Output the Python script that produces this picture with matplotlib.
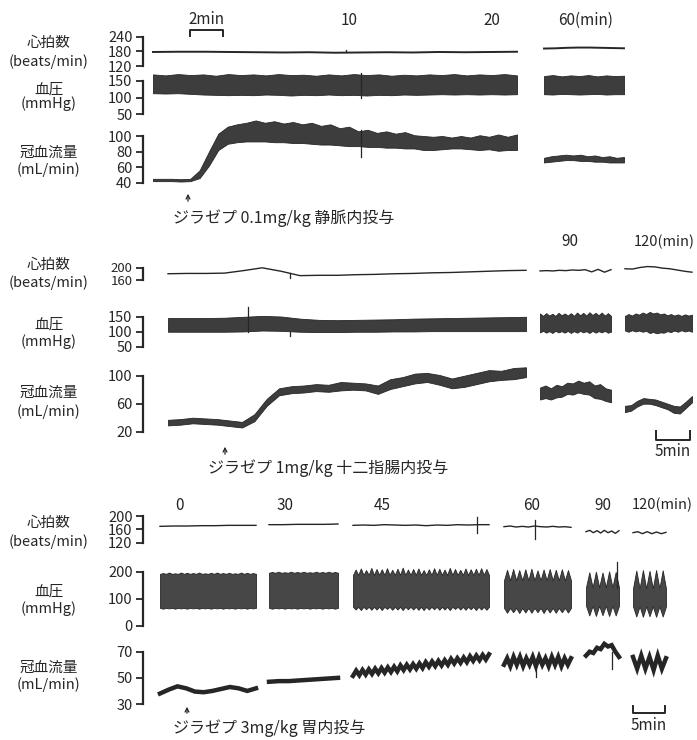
import matplotlib

matplotlib.use("Agg")

import matplotlib.pyplot as plt
import numpy as np

plt.rcParams["font.family"] = ["Noto Sans CJK JP", "DejaVu Sans"]

W, H = 697, 740
INK = "#262626"
BAND = "#3d3d3d"

# ---------------- data ----------------
# panel 1: 0.1 mg/kg i.v. (0-22 min, 60 min)
p1_hr = [
    [177, 178, 178, 177, 176, 175, 176, 174, 175, 176, 175, 177, 176, 177, 178],
    [191, 192, 194, 195, 195, 194, 193, 192],
]
p1_bp_hi = [
    [170, 167, 171, 168, 170, 166, 171, 168, 170, 167, 171, 168, 169, 166, 170,
     167, 171, 168, 170, 166, 169, 167, 170, 168, 171, 167, 170, 168, 171, 167],
    [165, 168, 164, 167, 165, 168, 164, 167, 165, 166],
]
p1_bp_lo = [
    [113, 112, 113, 111, 109, 108, 107, 108, 107, 109, 108, 106, 108, 107, 109,
     107, 108, 106, 108, 107, 109, 108, 109, 110, 109, 110, 109, 110, 109, 110],
    [110, 109, 111, 110, 109, 110, 111, 109, 110, 110],
]
p1_cbf_hi = [
    [45, 45, 45, 44.5, 45, 56, 80, 103, 112, 115, 117, 120, 117, 119, 116, 118, 115, 117, 113, 115,
     110, 112, 106, 108, 104, 106, 103, 105, 101, 100, 99, 100, 98, 100, 98, 101, 99, 102, 99, 102],
    [72, 74, 75, 76, 75, 76, 74, 75, 73, 74, 72, 73],
]
p1_cbf_lo = [
    [42, 42, 42, 41.5, 42, 46, 62, 82, 90, 92, 93, 93, 93, 92, 92, 91, 91, 90, 89, 89,
     88, 87, 87, 86, 86, 85, 85, 84, 84, 82, 82, 83, 84, 84, 83, 82, 83, 81, 82, 82],
    [66, 67, 68, 69, 69, 68, 68, 67, 67, 66, 66, 66],
]

# panel 2: 1 mg/kg intraduodenal (early record, 90 min, 120 min)
p2_hr = [
    [180, 181, 181, 182, 190, 199, 188, 174, 175, 175, 177, 178, 180, 181, 183, 184, 186, 188, 190, 191],
    [189, 190, 189, 191, 190, 192, 191, 193, 186, 194, 185, 193],
    [196, 195, 200, 203, 202, 198, 196, 192, 188, 185],
]
p2_bp_hi = [
    [145, 145, 145, 146, 149, 152, 150, 143, 139, 138, 139, 140, 141, 143, 144, 145, 146, 147, 148, 149],
    [160, 152, 161, 153, 159, 152, 162, 154, 160, 153, 161, 152, 163, 154, 162, 153, 164, 155, 162, 154, 163, 153, 161, 152],
    [152, 158, 153, 160, 156, 163, 158, 165, 160, 163, 157, 160, 154, 158, 153, 157, 152, 157, 153, 156],
]
p2_bp_lo = [
    [100, 100, 100, 100, 101, 104, 103, 100, 99, 99, 100, 100, 101, 101, 102, 102, 102, 102, 102, 102],
    [98, 103, 97, 102, 96, 103, 98, 102, 97, 103, 96, 102, 97, 103, 98, 102, 96, 103, 97, 102, 98, 103, 97, 100],
    [104, 100, 105, 101, 104, 100, 103, 96, 99, 95, 98, 97, 102, 99, 104, 100, 105, 101, 104, 100],
]
p2_cbf_hi = [
    [37, 38, 40, 39, 38, 36, 34, 45, 67, 82, 85, 86, 88, 87, 91, 90, 89, 86, 95, 98,
     103, 104, 101, 96, 100, 104, 108, 107, 111, 112],
    [83, 86, 82, 87, 85, 90, 89, 93, 90, 92, 86, 88, 82, 80],
    [57, 58, 64, 68, 67, 66, 63, 60, 57, 56, 63, 71],
]
p2_cbf_lo = [
    [29, 30, 32, 31, 30, 28, 26, 35, 57, 72, 75, 76, 78, 77, 79, 80, 79, 74, 81, 85,
     89, 91, 87, 82, 84, 88, 92, 94, 95, 98],
    [66, 68, 66, 69, 70, 74, 73, 76, 74, 73, 68, 67, 64, 62],
    [48, 50, 56, 60, 60, 58, 55, 52, 47, 46, 54, 62],
]

# panel 3: 3 mg/kg intragastric (0, 30, 45, 60, 90, 120 min)
p3_hr = [
    [169, 170, 170, 171, 171, 172, 172, 172],
    [174, 174, 175, 175, 175, 176],
    [172, 173, 172, 174, 173, 172, 173, 171, 173, 172, 174, 173, 174, 174],
    [168, 170, 167, 169, 167, 170, 168, 167, 169, 167, 168, 166],
    [153, 157, 150, 156, 149, 157, 150, 155, 148, 156],
    [150, 153, 147, 153, 147, 152, 147, 151],
]
p3_bp_top = [192, 196, 188, 168, 142, 138]
p3_bp_peaks = [
    [195, 197, 194, 197, 196, 195, 197, 194, 196, 197, 195, 196, 194, 197, 196, 195],
    [199, 200, 198, 200, 199, 200, 198, 200, 199, 200, 199],
    [208, 212, 206, 214, 210, 209, 213, 207, 211, 215, 208, 210, 212,
     206, 209, 213, 211, 208, 214, 210, 207, 212, 209, 211, 213, 210],
    [207, 210, 206, 209, 211, 205, 208, 210, 207, 209, 206],
    [198, 200, 197, 201, 199],
    [204, 206, 203, 206, 205],
]
p3_bp_floor = [66, 66, 70, 66, 74, 72]
p3_bp_dips = [
    [63, 64, 63, 64, 63, 64, 63, 64, 63, 64, 63, 64, 63, 64, 63, 64],
    [63, 64, 63, 64, 63, 64, 63, 64, 63, 64, 63],
    [60, 58, 61, 59, 60, 58, 62, 59, 60, 58, 61, 60, 59,
     58, 60, 61, 59, 60, 58, 62, 60, 59, 61, 58, 60, 59],
    [48, 50, 47, 49, 48, 50, 47, 49, 48, 50, 49],
    [38, 36, 39, 36, 38],
    [34, 33, 35, 33, 34],
]
p3_cbf = [
    [38, 41, 43.5, 42, 39.5, 39, 40, 41.5, 43, 42, 40, 42],
    [47, 47.5, 47.5, 48, 48.5, 49, 49.5, 50],
    [51.5, 55.5, 52, 56, 52.5, 56.5, 53, 57, 53.5, 57.5, 54, 58, 54.5, 58.5, 55, 59.5,
     56, 60, 56.5, 60.5, 57, 61, 57.5, 62, 58.5, 62.5, 59, 63, 59.5, 63.5, 60, 64.5,
     61, 65, 61.5, 65.5, 62, 66.5, 63, 67, 63.5, 67.5, 64, 68],
    [60, 65, 59, 66, 60, 66, 59, 65, 60, 66, 59, 66, 60, 65, 59, 66, 60, 66, 59, 65, 60, 65],
    [67, 70, 69, 73, 72, 76, 74, 75, 70, 66],
    [66, 57, 67, 57, 66, 56, 67, 57, 65],
]

# artefact strokes: (panel, row, value_low, value_high)
ARTEFACTS = [
    (0, 0, 176, 186), (0, 1, 98, 174), (0, 2, 73, 108),
    (1, 0, 165, 181), (1, 1, 100, 181), (1, 1, 86, 100),
    (2, 0, 149, 198), (2, 0, 131, 188), (2, 1, 140, 237), (2, 2, 51, 62), (2, 2, 57, 70),
]

# ---------------- layout (pixels) ----------------
SEGS = [
    [(153, 517), (544, 624)],
    [(168, 526), (540, 611), (625, 692)],
    [(160, 256), (269, 338), (353, 489), (504, 571), (586, 619), (633, 666)],
]
ART_X = [346, 361, 361, 290, 248, 290, 477, 535, 617, 536, 612]
SPINE_X = 143
# per row: tick values, pixel of first tick, pixel of last tick, label size
SCALES = [
    [([240, 180, 120], 36.5, 66, 10.5), ([150, 100, 50], 81, 114, 10.5),
     ([100, 80, 60, 40], 136, 182.7, 10.5)],
    [([200, 160], 267.5, 280, 9.5), ([150, 100, 50], 316.5, 347, 10.5),
     ([100, 60, 20], 375.7, 431.7, 10.5)],
    [([200, 160, 120], 516, 542.7, 10.5), ([200, 100, 0], 571.7, 625.7, 10.5),
     ([70, 50, 30], 651.7, 704, 10.5)],
]
ROW_LABELS = [("心拍数", "(beats/min)"), ("血圧", "(mmHg)"), ("冠血流量", "(mL/min)")]
ROW_LABEL_Y = [
    [(43, 62), (90, 103.5), (153, 170)],
    [(265, 283), (325, 342), (393, 412)],
    [(523, 542), (592, 609), (668, 685)],
]

fig = plt.figure(figsize=(W / 100, H / 100), dpi=100)


def row_axes(ticks, y_first, y_last, labelsize):
    ax = fig.add_axes([0, 1 - y_last / H, 1, (y_last - y_first) / H])
    ax.set_xlim(0, W)
    ax.set_ylim(ticks[-1], ticks[0])
    ax.patch.set_alpha(0)
    for side in ["top", "right", "bottom"]:
        ax.spines[side].set_visible(False)
    ax.spines["left"].set_position(("data", SPINE_X))
    ax.spines["left"].set_linewidth(1.6)
    ax.spines["left"].set_color(INK)
    ax.set_xticks([])
    ax.set_yticks(ticks)
    ax.set_yticklabels([str(t) for t in ticks])
    ax.tick_params(axis="y", direction="out", length=5, width=1.3, labelsize=labelsize,
                   pad=2.5, colors=INK)
    return ax


def zigzag(base, tips):
    out = [base]
    for t in tips:
        out += [t, base]
    return out


axes = [[row_axes(*s) for s in panel] for panel in SCALES]

panel_data = [
    (p1_hr, p1_bp_hi, p1_bp_lo, p1_cbf_hi, p1_cbf_lo),
    (p2_hr, p2_bp_hi, p2_bp_lo, p2_cbf_hi, p2_cbf_lo),
]
hr_lw = [1.4, 1.0]
for p, (hr, bph, bpl, cbh, cbl) in enumerate(panel_data):
    ax_hr, ax_bp, ax_cbf = axes[p]
    for k, (x0, x1) in enumerate(SEGS[p]):
        x = np.linspace(x0, x1, len(hr[k]))
        ax_hr.plot(x, hr[k], color=INK, lw=hr_lw[p], clip_on=False)
        x = np.linspace(x0, x1, len(bph[k]))
        ax_bp.fill_between(x, bpl[k], bph[k], color=BAND, lw=0.6, edgecolor=INK, clip_on=False)
        x = np.linspace(x0, x1, len(cbh[k]))
        ax_cbf.fill_between(x, cbl[k], cbh[k], color=BAND, lw=0.6, edgecolor=INK, clip_on=False)

ax_hr, ax_bp, ax_cbf = axes[2]
for k, (x0, x1) in enumerate(SEGS[2]):
    x = np.linspace(x0, x1, len(p3_hr[k]))
    ax_hr.plot(x, p3_hr[k], color=INK, lw=1.0, clip_on=False)
    hi = zigzag(p3_bp_top[k], p3_bp_peaks[k])
    lo = zigzag(p3_bp_floor[k], p3_bp_dips[k])
    x = np.linspace(x0, x1, len(hi))
    ax_bp.fill_between(x, lo, hi, color="#474747", lw=0.6, edgecolor=INK, clip_on=False)
    x = np.linspace(x0, x1, len(p3_cbf[k]))
    ax_cbf.plot(x, p3_cbf[k], color=INK, lw=3.2, solid_joinstyle="miter", clip_on=False)

for (p, r, lo, hi), xa in zip(ARTEFACTS, ART_X):
    axes[p][r].plot([xa, xa], [lo, hi], color=INK, lw=0.9, clip_on=False)

# ---------------- overlay: labels, arrows, scale bars ----------------
ov = fig.add_axes([0, 0, 1, 1])
ov.set_xlim(0, W)
ov.set_ylim(H, 0)
ov.axis("off")
ov.patch.set_alpha(0)

for p in range(3):
    for (jp, unit), (yj, yu) in zip(ROW_LABELS, ROW_LABEL_Y[p]):
        ov.text(49, yj, jp, ha="center", va="center", fontsize=10.5, color=INK)
        ov.text(49, yu, unit, ha="center", va="center", fontsize=10.5, color=INK)

time_labels = [
    ("10", 349, 20.5, "center", 11), ("20", 492, 20.5, "center", 11),
    ("60(min)", 558, 20.5, "left", 11),
    ("90", 570, 241.5, "center", 11), ("120(min)", 634, 241.5, "left", 10.5),
    ("0", 180, 505, "center", 11), ("30", 285, 505, "center", 11), ("45", 382, 505, "center", 11),
    ("60", 532, 505, "center", 11), ("90", 603, 505, "center", 11),
    ("120(min)", 632, 505, "left", 10.5),
]
for s, x, y, ha, fs in time_labels:
    ov.text(x, y, s, ha=ha, va="center", fontsize=fs, color=INK)

# 2 min bar (top)
ov.plot([190, 190, 223, 223], [36, 30, 30, 36], color=INK, lw=1.4)
ov.text(206.5, 20, "2min", ha="center", va="center", fontsize=11, color=INK)
# 5 min bars
ov.plot([656, 656, 690, 690], [431, 440, 440, 431], color=INK, lw=1.4)
ov.text(673, 452, "5min", ha="center", va="center", fontsize=11, color=INK)
ov.plot([633, 633, 665, 665], [706, 713, 713, 706], color=INK, lw=1.4)
ov.text(649, 726, "5min", ha="center", va="center", fontsize=11, color=INK)

drugs = [
    ("ジラゼプ 0.1mg/kg 静脈内投与", 188, 191, 204, 173, 218),
    ("ジラゼプ 1mg/kg 十二指腸内投与", 225, 444, 457, 208, 468),
    ("ジラゼプ 3mg/kg 胃内投与", 187, 704, 716, 173, 728),
]
for s, xa, y_head, y_tail, xt, yt in drugs:
    ov.annotate("", xy=(xa, y_head), xytext=(xa, y_tail),
                arrowprops=dict(arrowstyle="->", lw=0.9, color=INK, mutation_scale=7))
    ov.text(xt, yt, s, ha="left", va="center", fontsize=11.5, color=INK)

fig.savefig("out.png", dpi=100)
